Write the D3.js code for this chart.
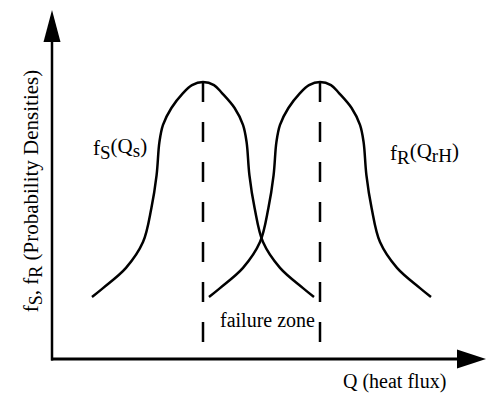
<!DOCTYPE html>
<html>
<head>
<meta charset="utf-8">
<script src="https://cdn.jsdelivr.net/npm/d3@7"></script>
<style>
  body { margin: 0; background: #fff; }
</style>
</head>
<body>
<div id="chart"></div>
<script>
// heat flux positions (arbitrary units)
const sQ = [10.0, 12.75, 18.5, 22.75, 24.85, 26.15, 26.85, 27.75, 29.85, 32.75, 35.0, 37.75,
  40.5, 42.5, 45.65, 47.75, 48.65, 49.35, 50.65, 52.75, 57.0, 62.75, 65.5];
const rQ = [39.25, 42.0, 47.75, 52.0, 54.1, 55.4, 56.1, 57.0, 59.1, 62.0, 64.25, 67.0,
  69.75, 71.75, 74.9, 77.0, 77.9, 78.6, 79.9, 82.0, 86.25, 92.0, 94.75];
// relative density at each point (same for both curves)
const density = [0.224, 0.256, 0.329, 0.422, 0.545, 0.664, 0.783, 0.845, 0.906, 0.96, 0.989, 1.0,
  0.989, 0.96, 0.906, 0.845, 0.783, 0.664, 0.545, 0.422, 0.329, 0.256, 0.224];

const width = 487, height = 396;
const origin = { x: 52, y: 359 };
const serif = '"Liberation Serif"';

const svg = d3.select("#chart").append("svg")
  .attr("width", width)
  .attr("height", height);

const x = d3.scaleLinear().domain([0, 100]).range([origin.x, 452]);
const y = d3.scaleLinear().domain([0, 1]).range([origin.y, 82]);

// axes with arrow heads
svg.append("line")
  .attr("x1", origin.x).attr("y1", origin.y + 1.5)
  .attr("x2", origin.x).attr("y2", 38)
  .attr("stroke", "#000").attr("stroke-width", 2.5);
svg.append("path")
  .attr("d", `M${origin.x},10 L${origin.x - 8.5},42 L${origin.x + 8.5},42 Z`)
  .attr("fill", "#000");

svg.append("line")
  .attr("x1", origin.x - 1).attr("y1", origin.y)
  .attr("x2", 462).attr("y2", origin.y)
  .attr("stroke", "#000").attr("stroke-width", 3);
svg.append("path")
  .attr("d", `M486,${origin.y} L457,${origin.y - 9.5} L457,${origin.y + 9.5} Z`)
  .attr("fill", "#000");

// density curves
const line = d3.line()
  .x((d) => x(d[0]))
  .y((d) => y(d[1]))
  .curve(d3.curveCatmullRom.alpha(0.5));

const curves = [
  d3.zip(sQ, density),
  d3.zip(rQ, density),
];

svg.selectAll(".curve")
  .data(curves)
  .enter()
  .append("path")
  .attr("class", "curve")
  .attr("d", line)
  .attr("fill", "none")
  .attr("stroke", "#000")
  .attr("stroke-width", 2.5);

// dashed lines through the peaks
const peaks = curves.map((c) => c[d3.maxIndex(c, (d) => d[1])]);
svg.selectAll(".peak")
  .data(peaks)
  .enter()
  .append("line")
  .attr("class", "peak")
  .attr("x1", (d) => x(d[0]))
  .attr("x2", (d) => x(d[0]))
  .attr("y1", (d) => y(d[1]))
  .attr("y2", y(0))
  .attr("stroke", "#000")
  .attr("stroke-width", 2.5)
  .attr("stroke-dasharray", "20,20");

// labels
const fs = 20;
const label = (sel) => sel.style("font-family", serif).style("font-size", fs + "px").attr("fill", "#000");

const lblS = svg.append("text").attr("x", 93).attr("y", 155).call(label).style("font-size", "21px");
lblS.append("tspan").text("f");
lblS.append("tspan").attr("dy", 4).style("font-size", "19px").text("S");
lblS.append("tspan").attr("dy", -6).text("(Q");
lblS.append("tspan").attr("dy", 4).style("font-size", "19px").text("s");
lblS.append("tspan").attr("dy", -4).text(")");

const lblR = svg.append("text").attr("x", 390).attr("y", 160).call(label).style("font-size", "21px");
lblR.append("tspan").text("f");
lblR.append("tspan").attr("dy", 4).style("font-size", "19px").text("R");
lblR.append("tspan").attr("dy", -6).text("(Q");
lblR.append("tspan").attr("dy", 4).style("font-size", "19px").text("rH");
lblR.append("tspan").attr("dy", -4).text(")");

svg.append("text")
  .attr("x", 220).attr("y", 327)
  .call(label)
  .text("failure zone");

svg.append("text")
  .attr("x", 343).attr("y", 388)
  .call(label)
  .text("Q (heat flux)");

const yl = svg.append("text")
  .attr("transform", "translate(38,191) rotate(-90)")
  .attr("text-anchor", "middle")
  .call(label)
  .style("font-size", "21px");
yl.append("tspan").text("f");
yl.append("tspan").attr("dy", 4).style("font-size", "18px").text("S");
yl.append("tspan").attr("dy", -4).text(",  f");
yl.append("tspan").attr("dy", 4).style("font-size", "18px").text("R");
yl.append("tspan").attr("dy", -4).text(" (Probability Densities)");
</script>
</body>
</html>
